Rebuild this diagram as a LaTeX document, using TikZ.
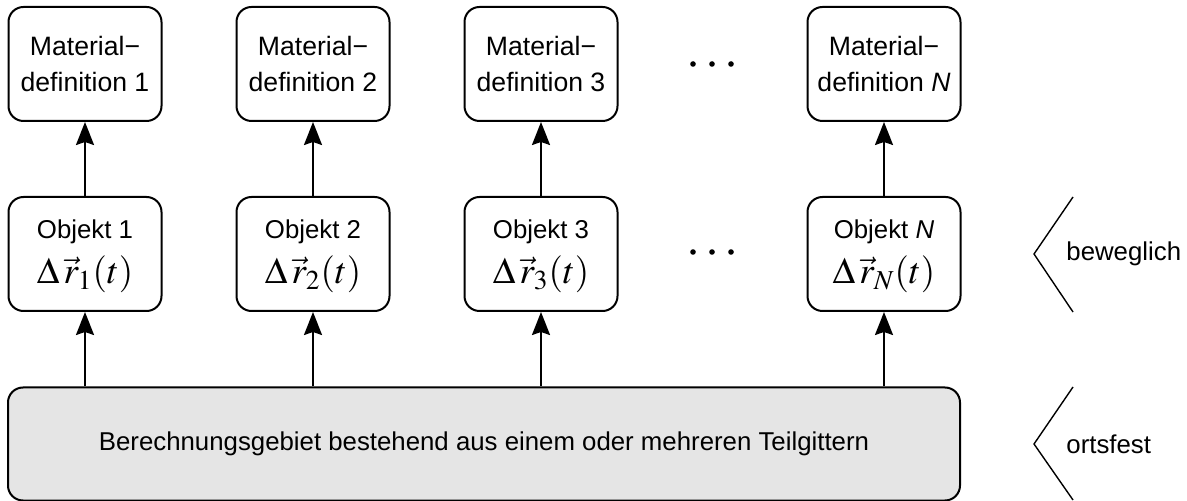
\documentclass[tikz,border=0pt]{standalone}
\usepackage{mathptmx}
\usepackage[no-math]{fontspec}
\setmainfont{Liberation Sans}
\usetikzlibrary{arrows.meta}
\newcommand{\disp}[1]{{\fontsize{18.5}{20}\selectfont$\Delta\,\vec{r}_{#1}(t)$}}
\begin{document}
\begin{tikzpicture}[x=0.5pt,y=-0.5pt,
  box/.style={draw, line width=1pt, rounded corners=7.5pt, minimum width=76.5pt,
    minimum height=57pt, align=center, inner sep=0pt, font=\fontsize{12.9}{17.5}\selectfont},
  matbox/.style={box, font=\fontsize{13.3}{17.5}\selectfont},
  base/.style={draw, line width=1pt, rounded corners=7.5pt, fill=gray!20,
    minimum width=476pt, minimum height=56.5pt, inner sep=0pt, font=\fontsize{12.9}{15}\selectfont},
  arr/.style={line width=1pt, -{Stealth[length=11.5pt, width=9pt, inset=1.5pt]}},
  brace/.style={line width=0.7pt},
  side/.style={anchor=west, inner sep=0pt, font=\fontsize{12.9}{15}\selectfont}]
\useasboundingbox (0,0) rectangle (1187,501);

% material definitions
\node[matbox] (d1) at (85,64)  {Material\char"2212\\definition 1};
\node[matbox] (d2) at (313,64) {Material\char"2212\\definition 2};
\node[matbox] (d3) at (541,64) {Material\char"2212\\definition 3};
\node[matbox] (dN) at (884,64) {Material\char"2212\\definition \textit{N}};

% moving objects
\node[box] (o1) at (85,254)  {\rule{0pt}{12pt}Objekt 1\\[5pt]\disp{1}};
\node[box] (o2) at (313,254) {\rule{0pt}{12pt}Objekt 2\\[5pt]\disp{2}};
\node[box] (o3) at (541,254) {\rule{0pt}{12pt}Objekt 3\\[5pt]\disp{3}};
\node[box] (oN) at (884,254) {\rule{0pt}{12pt}Objekt \textit{N}\\[5pt]\disp{N}};

% fixed computational domain
\node[base] (g) at (484,444) {Berechnungsgebiet bestehend aus einem oder mehreren Teilgittern};

% connectors
\foreach \k in {1,2,3,N}{
  \draw[arr] (o\k.north) -- (d\k.south);
  \draw[arr] (g.north -| o\k) -- (o\k.south);
}

% ellipses between columns
\foreach \yy in {64,252}{
  \foreach \xx in {693,712,731}
    \fill (\xx,\yy) circle (1.4pt);
}

% side markers
\coordinate (b1) at (1073,197);
\coordinate (b2) at (1034,254);
\coordinate (b3) at (1073,312);
\draw[brace] (b1) -- (b2) -- (b3);
\node[side] (lb) at (1066,254) {beweglich};

\coordinate (f1) at (1073,387);
\coordinate (f2) at (1034,444);
\coordinate (f3) at (1073,500);
\draw[brace] (f1) -- (f2) -- (f3);
\node[side] (lf) at (1066,444) {ortsfest};
\end{tikzpicture}
\end{document}
